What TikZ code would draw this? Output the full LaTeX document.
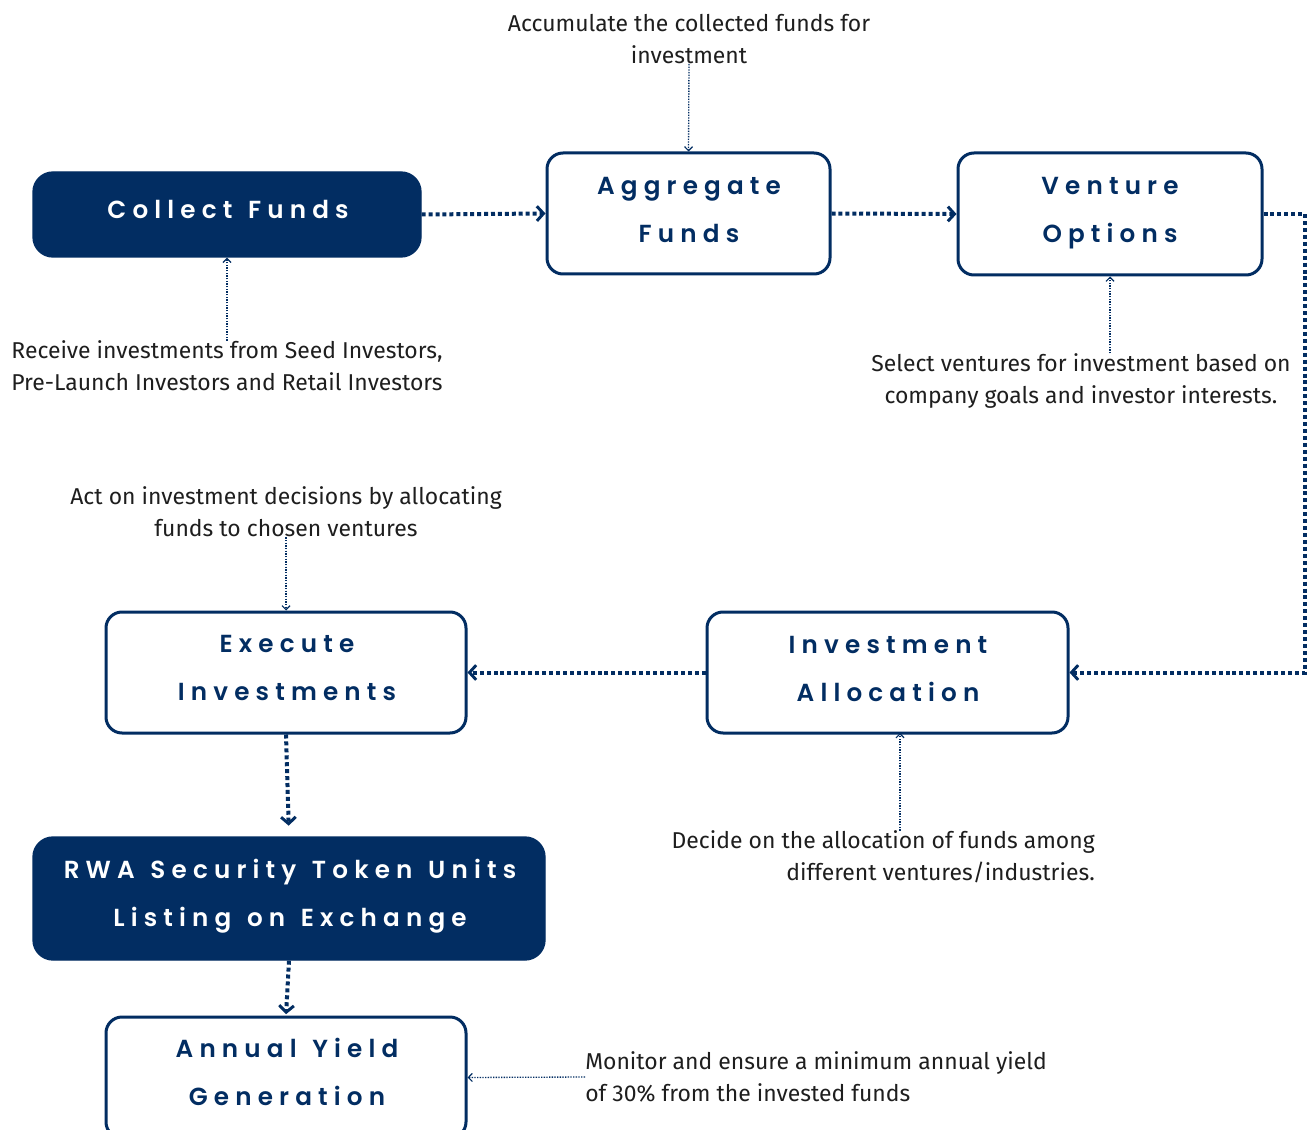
\documentclass[tikz,border=0pt]{standalone}
\usepackage{fontspec}
\setmainfont{Fira Sans}
\newfontfamily\titlefont[LetterSpace=25,WordSpace=1.3]{Poppins SemiBold}
\usetikzlibrary{arrows.meta}
\definecolor{navy}{HTML}{022D62}
\definecolor{txt}{HTML}{1E1E1E}
\begin{document}
\begin{tikzpicture}[x=0.75pt,y=-0.75pt,
 titletext/.style={font=\titlefont\fontsize{18.5}{36}\selectfont, align=center, inner sep=0pt},
 solidbox/.style={draw=navy, fill=navy, line width=1pt, rounded corners=15pt},
 openbox/.style={draw=navy, fill=white, line width=2.25pt, rounded corners=12pt},
 lighttitle/.style={titletext, text=white},
 darktitle/.style={titletext, text=navy},
 desc/.style={font=\fontsize{17.2}{24}\selectfont, text=txt, inner sep=0pt},
 flow/.style={navy, line width=3pt, dash pattern=on 3pt off 2.2pt, -{Straight Barb[length=5pt,width=11pt,line width=2.2pt]}},
 note/.style={navy, line width=1pt, dash pattern=on 1pt off 1pt, -{Straight Barb[length=3pt,width=6pt,line width=0.9pt]}}]
\useasboundingbox (0,0) rectangle (1310,1130);
\fill[white] (0,0) rectangle (1310,1130);
% boxes
\node[solidbox, minimum width=291pt, minimum height=63.75pt] (collect) at (227,214.5) {};
\node[openbox, minimum width=212.25pt, minimum height=90.75pt] (aggregate) at (688.5,213.5) {};
\node[openbox, minimum width=228pt, minimum height=91.5pt] (venture) at (1110,214) {};
\node[openbox, minimum width=270.75pt, minimum height=90.75pt] (invalloc) at (887.5,672.5) {};
\node[openbox, minimum width=270pt, minimum height=90.75pt] (execute) at (286,672.5) {};
\node[solidbox, minimum width=384pt, minimum height=92.25pt] (rwa) at (289,898.5) {};
\node[openbox, minimum width=270pt, minimum height=90.75pt] (annual) at (286,1077.5) {};
% box titles
\node[lighttitle] (collect-t) at (228,209) {Collect Funds};
\node[darktitle] (aggregate-t) at (689,210) {Aggregate\\Funds};
\node[darktitle] (venture-t) at (1110,213) {Venture\\Options};
\node[darktitle] (invalloc-t) at (888,669) {Investment\\Allocation};
\node[darktitle] (execute-t) at (287,668) {Execute\\Investments};
\node[lighttitle] (rwa-t) at (290,896) {RWA Security Token Units\\Listing on Exchange};
\node[darktitle] (annual-t) at (287,1072) {Annual Yield\\Generation};
% descriptions
\node[desc, align=center] (accum) at (689,39) {Accumulate the collected funds for\\investment};
\node[desc, align=center] (receive) at (227,366) {Receive investments from Seed Investors,\\Pre-Launch Investors and Retail Investors};
\node[desc, align=center] (select) at (1081,381) {Select ventures for investment based on\\company goals and investor interests.};
\node[desc, align=center] (act) at (286,512) {Act on investment decisions by allocating\\funds to chosen ventures};
\node[desc, align=right, anchor=east] (decide) at (1095,857) {Decide on the allocation of funds among\\different ventures/industries.};
\node[desc, align=left, anchor=west] (monitor) at (585,1077) {Monitor and ensure a minimum annual yield\\of 30\% from the invested funds};
% flow connectors
\coordinate (turn) at (1305,214);
\draw[flow] (collect.east) -- (aggregate.west);
\draw[flow] (aggregate.east) -- (venture.west);
\draw[flow] (venture.east) -- (turn) |- (invalloc.east);
\draw[flow] (invalloc.west) -- (execute.east);
\draw[flow, shorten >=8pt] (execute.south) -- (rwa.north);
\draw[flow, shorten >=1pt] (rwa.south) -- (annual.north);
% note connectors
\coordinate (dtop) at (900,733);
\draw[note] (accum.south) -- (aggregate.north);
\draw[note] (receive.north) -- (collect.south);
\draw[note] (venture.south |- select.north) -- (venture.south);
\draw[note] (act.south) -- (execute.north);
\draw[note] (dtop |- decide.north) -- (dtop);
\draw[note] (monitor.west) -- (annual.east);
\end{tikzpicture}
\end{document}
